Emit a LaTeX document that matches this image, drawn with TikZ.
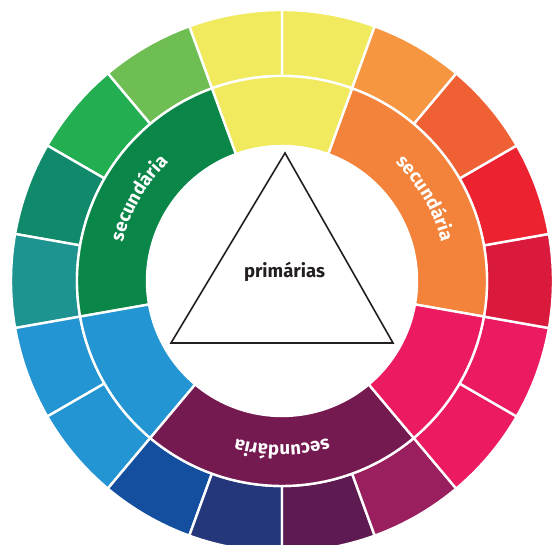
\documentclass[tikz,border=0pt]{standalone}
\usepackage{fontspec}
\setsansfont{Fira Sans}
\usetikzlibrary{calc}
\usetikzlibrary{decorations.text}
\definecolor{figAmarelo}{RGB}{241,234,94}
\definecolor{figVerdeClaro}{RGB}{110,190,83}
\definecolor{figVerdeVivo}{RGB}{34,174,81}
\definecolor{figVerdeAzul}{RGB}{16,138,106}
\definecolor{figTurquesa}{RGB}{30,148,145}
\definecolor{figAzul}{RGB}{36,149,211}
\definecolor{figAzulEscuro}{RGB}{19,78,159}
\definecolor{figAnil}{RGB}{36,55,122}
\definecolor{figRoxoEscuro}{RGB}{94,27,81}
\definecolor{figMagenta}{RGB}{154,31,94}
\definecolor{figRosa}{RGB}{236,26,96}
\definecolor{figCarmim}{RGB}{218,26,61}
\definecolor{figVermelho}{RGB}{236,34,48}
\definecolor{figVermelhoLaranja}{RGB}{239,96,53}
\definecolor{figLaranjaClaro}{RGB}{246,150,64}
\definecolor{figVerde}{RGB}{10,134,73}
\definecolor{figRoxo}{RGB}{117,26,81}
\definecolor{figLaranja}{RGB}{243,130,58}
\definecolor{figTraco}{RGB}{35,31,32}
\tikzset{
  setor/.style={draw=white, line width=2.4pt, line join=round},
  triangulo/.style={draw=figTraco, line width=1.6pt, line join=miter},
  titulo/.style={font=\sffamily\bfseries\fontsize{18.5}{20}\selectfont, text=figTraco, inner sep=0pt},
  rotulo/.style={decorate, decoration={text along path, text align=center,
    text={|\sffamily\bfseries\fontsize{18.5}{20}\selectfont\color{white}|secundária}}}
}

\begin{document}
\begin{tikzpicture}[x=1pt, y=1pt]
  \useasboundingbox (0,0) rectangle (557,545);
  \begin{scope}[shift={(282,264)}]
    % anel externo, 18 setores de 20 graus
    \foreach \ini/\cor in {70/figAmarelo, 90/figAmarelo, 110/figVerdeClaro, 130/figVerdeVivo,
      150/figVerdeAzul, 170/figTurquesa, 190/figAzul, 210/figAzul, 230/figAzulEscuro,
      250/figAnil, 270/figRoxoEscuro, 290/figMagenta, 310/figRosa, 330/figRosa,
      350/figCarmim, 10/figVermelho, 30/figVermelhoLaranja, 50/figLaranjaClaro}
      \filldraw[setor, fill=\cor] (\ini:205pt) arc[start angle=\ini, end angle=\ini+20, radius=205pt]
        -- (\ini+20:271pt) arc[start angle=\ini+20, end angle=\ini, radius=271pt] -- cycle;
    % anel interno
    \foreach \ini/\fim/\cor in {-10/70/figLaranja, 70/110/figAmarelo, 110/190/figVerde,
      190/230/figAzul, 230/310/figRoxo, 310/350/figRosa}
      \filldraw[setor, fill=\cor] (\ini:135pt) arc[start angle=\ini, end angle=\fim, radius=135pt]
        -- (\fim:205pt) arc[start angle=\fim, end angle=\ini, radius=205pt] -- cycle;
    \foreach \meio in {30,150,270}
      \path[rotulo] (\meio+30:164pt) arc[start angle=\meio+30, end angle=\meio-30, radius=164pt];
    \draw[triangulo] (3,128) -- (-111,-62) -- (111,-62) -- cycle;
    \node[titulo, anchor=base] (prim) at (2.5,3) {primárias};
  \end{scope}
\end{tikzpicture}
\end{document}
